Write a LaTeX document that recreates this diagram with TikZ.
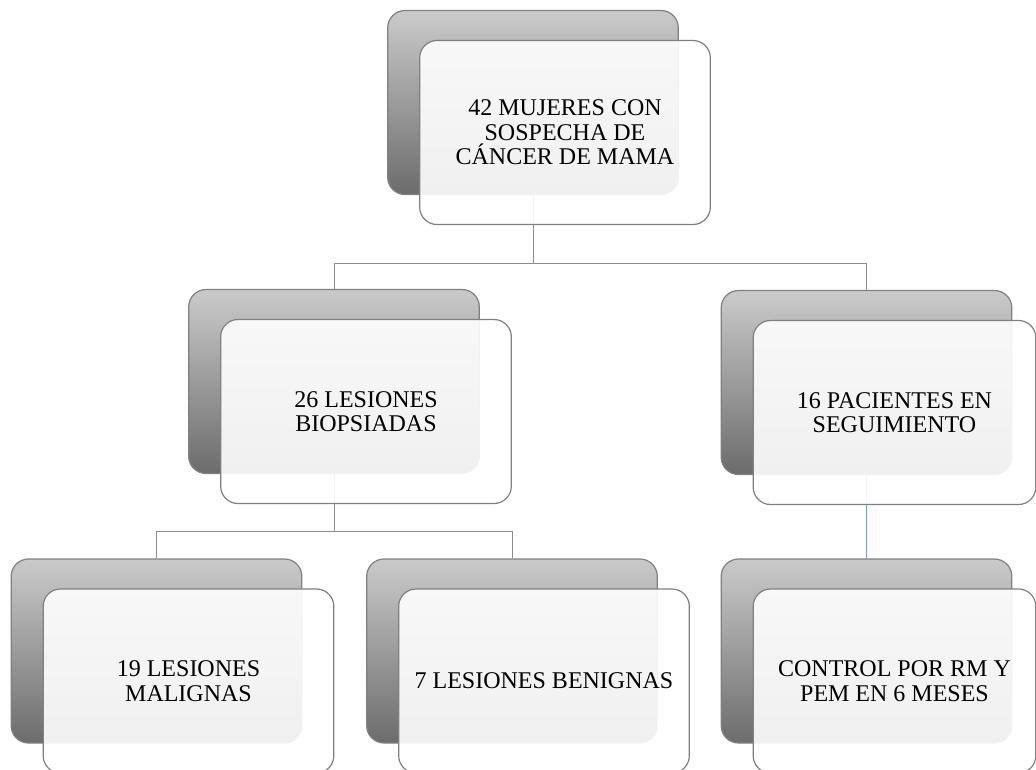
\documentclass[tikz,border=0pt]{standalone}
\usepackage{fontspec}
\setmainfont{Liberation Serif}
\usepackage{tikz}

\definecolor{boxline}{RGB}{128,128,128}
\definecolor{linkgray}{RGB}{140,140,140}
\definecolor{linkblue}{RGB}{122,160,204}
\definecolor{shadetop}{RGB}{202,202,202}
\definecolor{shadebot}{RGB}{108,108,108}

\tikzset{
  backbox/.style={rectangle, rounded corners=13pt, draw=boxline, line width=0.9pt,
    top color=shadetop, bottom color=shadebot,
    minimum width=218pt, minimum height=138pt, inner sep=0pt},
  frontbox/.style={rectangle, rounded corners=13pt, draw=boxline, line width=0.9pt,
    fill=white, fill opacity=0.9, text opacity=1, draw opacity=1,
    minimum width=218pt, minimum height=138pt, inner sep=0pt,
    align=center, font=\fontsize{18}{18.3}\selectfont},
  link/.style={draw=linkgray, line width=0.75pt},
}

\begin{document}
\begin{tikzpicture}[x=0.75pt, y=-0.75pt]
    \useasboundingbox (0,0) rectangle (1036,769);

    % back boxes
    \node[backbox] (topB) at (533,102.5) {};
    \node[backbox] (biopB) at (334,381.5) {};
    \node[backbox] (segB) at (866.5,382.5) {};
    \node[backbox] (malB) at (156.5,651) {};
    \node[backbox] (benB) at (512,651) {};
    \node[backbox] (ctrlB) at (866.5,651) {};

    % connectors
    \coordinate (forkA) at (533,263);
    \coordinate (forkB) at (334,531);
    \draw[link] (topB.south) -- (forkA) -| (biopB.north);
    \draw[link] (forkA) -| (segB.north);
    \draw[link] (biopB.south) -- (forkB) -| (malB.north);
    \draw[link] (forkB) -| (benB.north);
    \draw[link, draw=linkblue] (segB.south) -- (ctrlB.north);

    % front boxes
    \node[frontbox] (top) at ([shift={(32,30)}]topB) {42 MUJERES CON\\SOSPECHA DE\\CÁNCER DE MAMA};
    \node[frontbox] (biop) at ([shift={(32,30)}]biopB) {26 LESIONES\\BIOPSIADAS};
    \node[frontbox, minimum width=212pt] (seg) at ([shift={(28,30)}]segB) {16 PACIENTES EN\\SEGUIMIENTO};
    \node[frontbox] (mal) at ([shift={(32,30)}]malB) {19 LESIONES\\MALIGNAS};
    \node[frontbox] (ben) at ([shift={(32,30)}]benB) {7 LESIONES BENIGNAS};
    \node[frontbox, minimum width=212pt] (ctrl) at ([shift={(28,30)}]ctrlB) {CONTROL POR RM Y\\PEM EN 6 MESES};
\end{tikzpicture}
\end{document}
